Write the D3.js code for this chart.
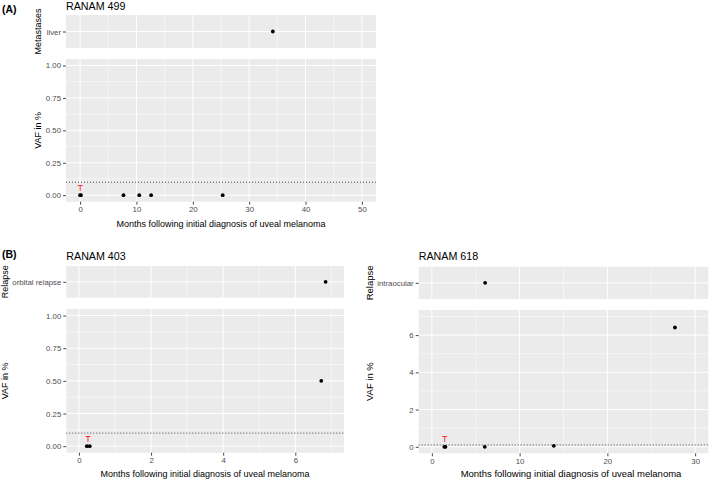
<!DOCTYPE html>
<html><head><meta charset="utf-8">
<script src="https://cdn.jsdelivr.net/npm/d3@7"></script>
<style>
body{margin:0;background:#fff}
svg{display:block;font-family:"Liberation Sans",Arial,Helvetica,sans-serif}
</style>
</head><body>
<svg id="c" width="709" height="480"></svg>
<script>
// ---------------- DATA ----------------
const panelLetters = ["(A)", "(B)"];
const titles = ["RANAM 499", "RANAM 403", "RANAM 618"];
const stripAxisTitles = ["Metastases", "Relapse", "Relapse"];
const xAxisTitle = "Months following initial diagnosis of uveal melanoma";
const yAxisTitle = "VAF in %";
const tumorLabel = "T";
const threshold = 0.1;

// RANAM 499
const r499StripCategories = ["liver"];
const r499StripMonths = [34.2];
const r499Months = [0, 0.15, 7.7, 10.5, 12.6, 25.3];
const r499Vaf = [0, 0, 0, 0, 0, 0];
const r499TumorMonth = 0.05;
const r499XTicks = [0, 10, 20, 30, 40, 50];
const r499YTicks = [0, 0.25, 0.5, 0.75, 1];

// RANAM 403
const r403StripCategories = ["orbital relapse"];
const r403StripMonths = [6.84];
const r403Months = [0.22, 0.3, 6.72];
const r403Vaf = [0, 0, 0.5];
const r403TumorMonth = 0.25;
const r403XTicks = [0, 2, 4, 6];
const r403YTicks = [0, 0.25, 0.5, 0.75, 1];

// RANAM 618
const r618StripCategories = ["intraocular"];
const r618StripMonths = [6.07];
const r618Months = [1.42, 1.55, 6.03, 13.9, 27.7];
const r618Vaf = [0, 0, 0, 0.05, 6.41];
const r618TumorMonth = 1.48;
const r618XTicks = [0, 10, 20, 30];
const r618YTicks = [0, 2, 4, 6];

// ---------------- DRAWING ----------------
const svg = d3.select("#c");
const BG = "#EBEBEB", TICKC = "#333333", LABC = "#4D4D4D";

function minorBetween(ticks, domain) {
  const step = ticks[1] - ticks[0];
  const out = [];
  for (let v = ticks[0] - step / 2; v <= domain[1]; v += step) {
    if (v >= domain[0]) out.push(v);
  }
  return out;
}

function drawPanel(p) {
  const g = svg.append("g");
  const x = d3.scaleLinear().domain(p.xDomain).range([p.left, p.right]);
  const ys = d3.scalePoint().domain(p.stripCats).range([p.stripTop, p.stripBottom]).padding(0.5);
  const y = d3.scaleLinear().domain(p.yDomain).range([p.mainBottom, p.mainTop]);
  const xMinor = minorBetween(p.xTicks, p.xDomain);
  const yMinor = minorBetween(p.yTicks, p.yDomain);

  g.append("rect").attr("x", p.left).attr("y", p.stripTop)
    .attr("width", p.right - p.left).attr("height", p.stripBottom - p.stripTop).attr("fill", BG);
  g.append("rect").attr("x", p.left).attr("y", p.mainTop)
    .attr("width", p.right - p.left).attr("height", p.mainBottom - p.mainTop).attr("fill", BG);

  [[p.stripTop, p.stripBottom], [p.mainTop, p.mainBottom]].forEach(([t, b]) => {
    g.selectAll(null).data(xMinor).enter().append("line")
      .attr("x1", d => x(d)).attr("x2", d => x(d)).attr("y1", t).attr("y2", b)
      .attr("stroke", "#fff").attr("stroke-width", 0.5);
    g.selectAll(null).data(p.xTicks).enter().append("line")
      .attr("x1", d => x(d)).attr("x2", d => x(d)).attr("y1", t).attr("y2", b)
      .attr("stroke", "#fff").attr("stroke-width", 1);
  });
  g.selectAll(null).data(p.stripCats).enter().append("line")
    .attr("x1", p.left).attr("x2", p.right).attr("y1", d => ys(d)).attr("y2", d => ys(d))
    .attr("stroke", "#fff").attr("stroke-width", 1);
  g.selectAll(null).data(yMinor).enter().append("line")
    .attr("x1", p.left).attr("x2", p.right).attr("y1", d => y(d)).attr("y2", d => y(d))
    .attr("stroke", "#fff").attr("stroke-width", 0.5);
  g.selectAll(null).data(p.yTicks).enter().append("line")
    .attr("x1", p.left).attr("x2", p.right).attr("y1", d => y(d)).attr("y2", d => y(d))
    .attr("stroke", "#fff").attr("stroke-width", 1);

  g.append("line").attr("x1", p.left).attr("x2", p.right)
    .attr("y1", y(threshold)).attr("y2", y(threshold))
    .attr("stroke", "#333").attr("stroke-width", 0.9).attr("stroke-dasharray", "1,2");

  function styleAxis(sel, fs) {
    sel.select(".domain").remove();
    sel.selectAll(".tick line").attr("stroke", TICKC).attr("stroke-width", 0.9);
    sel.selectAll(".tick text").attr("fill", LABC).style("font-size", fs + "px")
      .style("font-family", "'Liberation Sans',Arial,sans-serif");
  }
  g.append("g").attr("transform", `translate(${p.left},0)`)
    .call(d3.axisLeft(ys).tickSize(3).tickPadding(2))
    .call(s => styleAxis(s, p.tickFs));
  g.append("g").attr("transform", `translate(${p.left},0)`)
    .call(d3.axisLeft(y).tickValues(p.yTicks).tickFormat(p.yFmt).tickSize(3).tickPadding(2))
    .call(s => styleAxis(s, p.tickFs));
  g.append("g").attr("transform", `translate(0,${p.mainBottom})`)
    .call(d3.axisBottom(x).tickValues(p.xTicks).tickFormat(d3.format("d")).tickSize(3).tickPadding(2))
    .call(s => styleAxis(s, p.tickFs));

  g.selectAll(null).data(p.stripMonths.map((m, i) => [m, p.stripCats[i]])).enter()
    .append("circle").attr("cx", d => x(d[0])).attr("cy", d => ys(d[1])).attr("r", 1.9).attr("fill", "#000");
  g.selectAll(null).data(p.months.map((m, i) => [m, p.vaf[i]])).enter()
    .append("circle").attr("cx", d => x(d[0])).attr("cy", d => y(d[1])).attr("r", 1.9).attr("fill", "#000");

  g.append("text").attr("x", x(p.tMonth)).attr("y", y(0) - 4.5)
    .attr("text-anchor", "middle").attr("fill", "#F8110F").style("font-size", p.tFs + "px").text(tumorLabel);

  g.append("text").attr("x", p.left).attr("y", p.titleY).style("font-size", p.titleFs + "px")
    .attr("fill", "#000").text(p.title);
  g.append("text").attr("x", p.xTitleX).attr("y", p.xTitleY).attr("text-anchor", "middle")
    .style("font-size", p.axisFs + "px").attr("fill", "#000").text(xAxisTitle);
  g.append("text").attr("transform", `translate(${p.yTitleX},${(p.mainTop + p.mainBottom) / 2}) rotate(-90)`)
    .attr("text-anchor", "middle").attr("dy", "0.35em").style("font-size", p.axisFs + "px").attr("fill", "#000").text(yAxisTitle);
  g.append("text").attr("transform", `translate(${p.yTitleX},${(p.stripTop + p.stripBottom) / 2}) rotate(-90)`)
    .attr("text-anchor", "middle").attr("dy", "0.35em").style("font-size", p.axisFs + "px").attr("fill", "#000").text(p.stripTitle);
}

drawPanel({
  title: titles[0], stripTitle: stripAxisTitles[0],
  stripCats: r499StripCategories, stripMonths: r499StripMonths,
  months: r499Months, vaf: r499Vaf, tMonth: r499TumorMonth,
  xTicks: r499XTicks, yTicks: r499YTicks,
  xDomain: [-2.5, 52.5], yDomain: [-0.05, 1.05], yFmt: d3.format(".2f"),
  left: 66, right: 376, stripTop: 15, stripBottom: 48, mainTop: 59, mainBottom: 201.7,
  titleY: 9.5, xTitleX: 221, xTitleY: 226.5, yTitleX: 38,
  titleFs: 10.7, axisFs: 9, tickFs: 7.8, tFs: 9
});
drawPanel({
  title: titles[1], stripTitle: stripAxisTitles[1],
  stripCats: r403StripCategories, stripMonths: r403StripMonths,
  months: r403Months, vaf: r403Vaf, tMonth: r403TumorMonth,
  xTicks: r403XTicks, yTicks: r403YTicks,
  xDomain: [-0.35, 7.35], yDomain: [-0.05, 1.05], yFmt: d3.format(".2f"),
  left: 66.3, right: 344, stripTop: 266, stripBottom: 297.7, mainTop: 309, mainBottom: 452.7,
  titleY: 260, xTitleX: 205, xTitleY: 477, yTitleX: 5,
  titleFs: 10.7, axisFs: 9, tickFs: 7.8, tFs: 9
});
drawPanel({
  title: titles[2], stripTitle: stripAxisTitles[2],
  stripCats: r618StripCategories, stripMonths: r618StripMonths,
  months: r618Months, vaf: r618Vaf, tMonth: r618TumorMonth,
  xTicks: r618XTicks, yTicks: r618YTicks,
  xDomain: [-1.5, 31.5], yDomain: [-0.35, 7.35], yFmt: d3.format("d"),
  left: 418.7, right: 708.3, stripTop: 266.7, stripBottom: 299, mainTop: 310, mainBottom: 453.3,
  titleY: 260, xTitleX: 571, xTitleY: 477.3, yTitleX: 370,
  titleFs: 10.7, axisFs: 9.5, tickFs: 7.8, tFs: 9
});

svg.append("text").attr("x", 2).attr("y", 12.5).style("font-size", "10.5px").style("font-weight", "bold")
  .attr("fill", "#000").text(panelLetters[0]);
svg.append("text").attr("x", 2).attr("y", 257.5).style("font-size", "10.5px").style("font-weight", "bold")
  .attr("fill", "#000").text(panelLetters[1]);
</script>
</body></html>
